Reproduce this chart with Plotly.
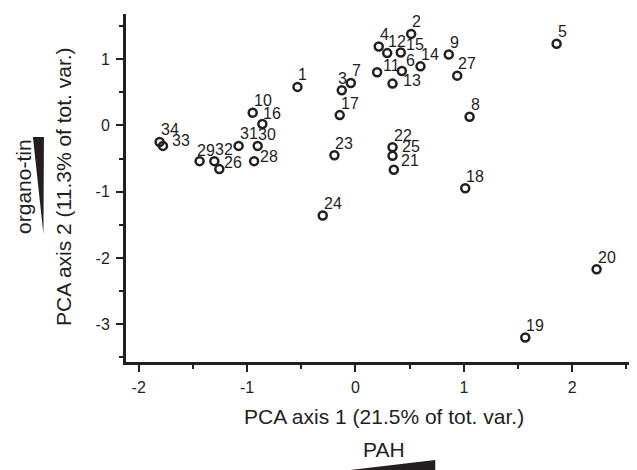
import plotly.graph_objects as go

# ---- data ----
site_ids = ["1", "2", "3", "4", "5", "6", "7", "8", "9", "10", "11", "12",
            "13", "14", "15", "16", "17", "18", "19", "20", "21", "22", "23",
            "24", "25", "26", "27", "28", "29", "30", "31", "32", "33", "34"]
pc1 = [-0.535, 0.514, -0.126, 0.215, 1.856, 0.428, -0.043, 1.053, 0.861, -0.948,
       0.200, 0.293, 0.342, 0.600, 0.418, -0.859, -0.145, 1.013, 1.567, 2.225,
       0.354, 0.342, -0.194, -0.302, 0.342, -1.256, 0.939, -0.935, -1.438, -0.902,
       -1.078, -1.302, -1.776, -1.807]
pc2 = [0.58, 1.38, 0.53, 1.19, 1.23, 0.82, 0.64, 0.13, 1.07, 0.19,
       0.80, 1.09, 0.63, 0.89, 1.10, 0.02, 0.155, -0.95, -3.20, -2.17,
       -0.67, -0.33, -0.45, -1.36, -0.46, -0.66, 0.75, -0.54, -0.54, -0.31,
       -0.31, -0.54, -0.31, -0.25]

x_tickvals = [-2, -1, 0, 1, 2]
x_ticktext = ["-2", "-1", "0", "1", "2"]
x_minor = [-1.5, -0.5, 0.5, 1.5, 2.5]
y_tickvals = [-3, -2, -1, 0, 1]
y_ticktext = ["-3", "-2", "-1", "0", "1"]
y_minor = [-3.5, -2.5, -1.5, -0.5, 0.5, 1.5]

x_title = "PCA axis 1 (21.5% of tot. var.)"
y_title = "PCA axis 2 (11.3% of tot. var.)"
x_gradient_label = "PAH"
y_gradient_label = "organo-tin"

# ---- style: label offsets in pixels (dx right, dy down) ----
default_off = (1, -12)
special_off = {"3": (-4, -12), "28": (6, -5), "29": (-3, -11), "26": (5, -7),
               "33": (9, -5), "15": (5, -8), "11": (6, -7), "13": (10, -3),
               "25": (9, -9), "21": (7, -9), "6": (4, -11), "16": (1, -11),
               "30": (0, -11)}

INK = "#231f20"
FONT = "Liberation Sans, Arial, sans-serif"
OFF = 8  # page body margin
W, H = 637 - OFF, 470 - OFF
# plot area in page pixels: x 126..633.6, y 14..362
L = 126 - OFF
T = 14 - OFF
B = H - (362 - OFF)
R = W - (633.6 - OFF)
pw, ph = W - L - R, H - T - B

def px2paper(px, py):
    # px, py in page (reference) pixels
    fx, fy = px - OFF, py - OFF
    return (fx - L) / pw, (H - B - fy) / ph

fig = go.Figure()
fig.add_trace(go.Scatter(
    x=pc1, y=pc2, mode="markers",
    marker=dict(symbol="circle-open", size=8, color=INK, line=dict(width=2.5, color=INK)),
    hoverinfo="skip", showlegend=False, cliponaxis=False))

annotations = []
for lab, xv, yv in zip(site_ids, pc1, pc2):
    dx, dy = special_off.get(lab, default_off)
    annotations.append(dict(x=xv, y=yv, xref="x", yref="y", text=lab, showarrow=False,
                            xanchor="left", yanchor="middle", xshift=dx, yshift=-dy,
                            borderpad=0, borderwidth=0,
                            font=dict(family=FONT, size=16, color=INK)))

ax, ay = px2paper(383.3, 416)
annotations.append(dict(x=ax, y=ay, xref="paper", yref="paper", text=x_title, showarrow=False,
                        xanchor="center", yanchor="middle", font=dict(family=FONT, size=21, color=INK)))
ax, ay = px2paper(383.3, 449)
annotations.append(dict(x=ax, y=ay, xref="paper", yref="paper", text=x_gradient_label, showarrow=False,
                        xanchor="center", yanchor="middle", font=dict(family=FONT, size=21, color=INK)))
ax, ay = px2paper(64, 186)
annotations.append(dict(x=ax, y=ay, xref="paper", yref="paper", text=y_title, showarrow=False,
                        textangle=-90, xanchor="center", yanchor="middle",
                        font=dict(family=FONT, size=21, color=INK)))
ax, ay = px2paper(24, 186)
annotations.append(dict(x=ax, y=ay, xref="paper", yref="paper", text=y_gradient_label, showarrow=False,
                        textangle=-90, xanchor="center", yanchor="middle",
                        font=dict(family=FONT, size=21, color=INK)))

def tri_path(pts):
    return "M " + " L ".join(f"{px2paper(*p)[0]:.5f},{px2paper(*p)[1]:.5f}" for p in pts) + " Z"

shapes = [
    dict(type="path", xref="paper", yref="paper", path=tri_path([(33, 137), (44, 137), (43.5, 234)]),
         fillcolor=INK, line=dict(width=0)),
    dict(type="path", xref="paper", yref="paper", path=tri_path([(333, 472), (435, 460), (435, 472)]),
         fillcolor=INK, line=dict(width=0)),
]

axis_common = dict(showline=True, linewidth=3, linecolor=INK, ticks="outside", ticklen=7,
                   tickwidth=2, tickcolor=INK, showgrid=False, zeroline=False,
                   tickfont=dict(family=FONT, size=16, color=INK), mirror=False)

fig.update_layout(
    width=W, height=H, margin=dict(l=L, r=R, t=T, b=B),
    paper_bgcolor="white", plot_bgcolor="white",
    xaxis=dict(range=[-2.117, 2.57], tickvals=x_tickvals, ticktext=x_ticktext,
               minor=dict(tickvals=x_minor, ticks="outside", ticklen=4, tickwidth=2, tickcolor=INK),
               ticklabelstandoff=2, **axis_common),
    yaxis=dict(range=[-3.57, 1.68], tickvals=y_tickvals, ticktext=y_ticktext,
               minor=dict(tickvals=y_minor, ticks="outside", ticklen=4, tickwidth=2, tickcolor=INK),
               ticklabelstandoff=3, **axis_common),
    annotations=annotations, shapes=shapes,
)

fig.write_html("out.html")
